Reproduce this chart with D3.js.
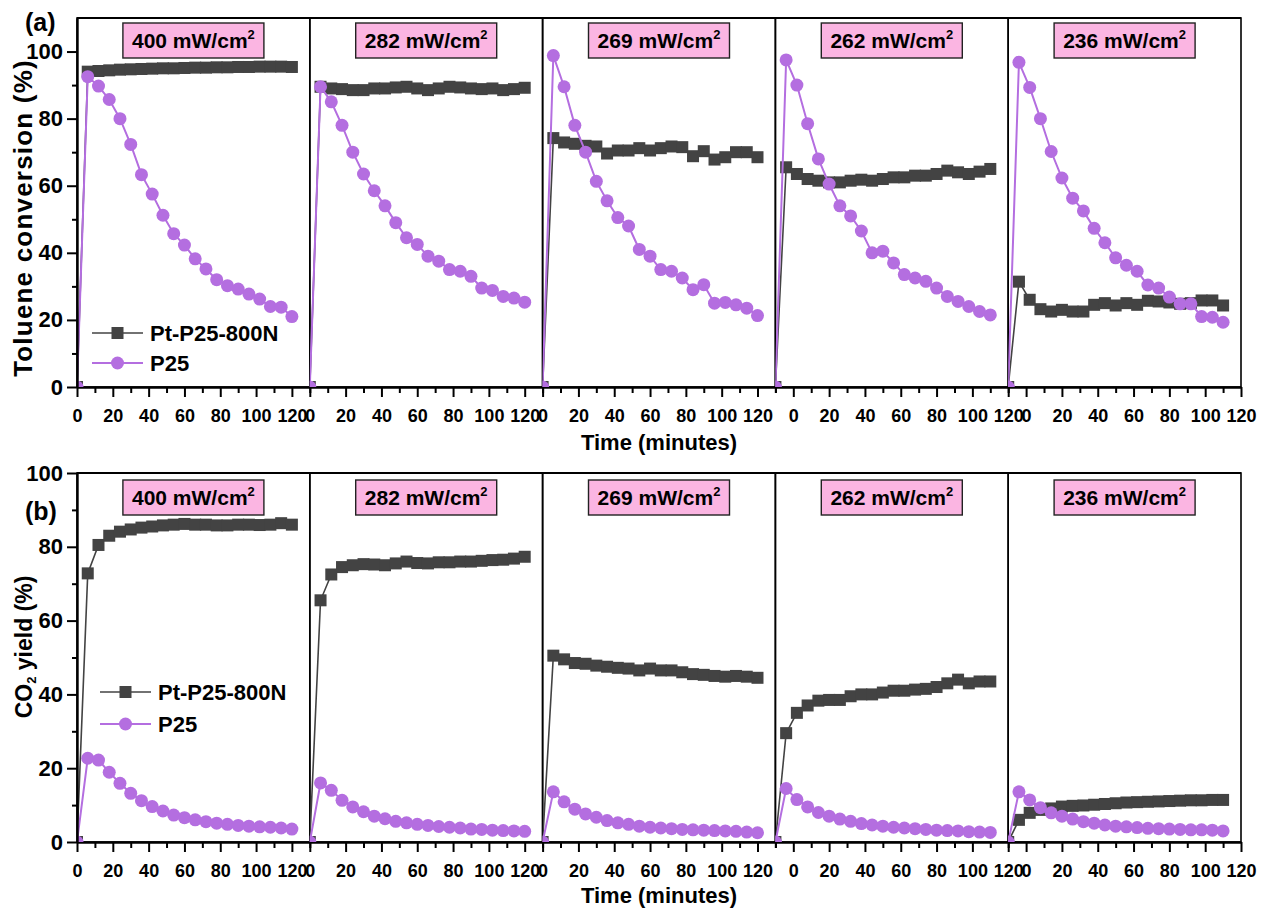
<!DOCTYPE html>
<html>
<head>
<meta charset="utf-8">
<script src="https://cdn.jsdelivr.net/npm/d3@7"></script>
<style>
  body { margin: 0; background: #fff; }
  text { font-family: Arial, "Liberation Sans", sans-serif; font-weight: bold; fill: #000; }
</style>
</head>
<body>
<div id="chart"></div>
<script>
// Light intensities, one panel each
var intensities = ["400", "282", "269", "262", "236"];
var seriesNames = ["Pt-P25-800N", "P25"];

// Sampling times (minutes); the last two panels use an axis shifted by 10 min
var timesA = [0, 6, 12, 18, 24, 30, 36, 42, 48, 54, 60, 66, 72, 78, 84, 90, 96, 102, 108, 114, 120];
var timesB = [-10, -4, 2, 8, 14, 20, 26, 32, 38, 44, 50, 56, 62, 68, 74, 80, 86, 92, 98, 104, 110];
var panelTimes = [timesA, timesA, timesA, timesB, timesB];

// Tick values
var xMajorTicks = [0, 20, 40, 60, 80, 100, 120];
var xMinorTicks = [-10, 10, 30, 50, 70, 90, 110, 130];
var yMajorTicks = [0, 20, 40, 60, 80, 100];
var yMinorTicks = [10, 30, 50, 70, 90];

// (a) Toluene conversion (%)
var tolPt = [
  [0, 94, 94.2, 94.4, 94.6, 94.7, 94.8, 94.9, 95, 95, 95.1, 95.2, 95.2, 95.3, 95.3, 95.4, 95.4, 95.5, 95.5, 95.5, 95.4],
  [0, 89.5, 89, 88.8, 88.5, 88.5, 89, 89, 89.3, 89.5, 89, 88.5, 89, 89.5, 89.3, 89, 88.8, 89, 88.5, 88.8, 89.2],
  [0, 74.2, 72.9, 72.5, 71.9, 71.7, 69.6, 70.5, 70.5, 71.2, 70.5, 71.2, 71.7, 71.5, 68.8, 70.3, 67.8, 68.5, 70, 70, 68.5],
  [0, 65.5, 63.5, 62, 61.5, 61, 61, 61.5, 61.8, 61.5, 62, 62.5, 62.5, 63, 63, 63.5, 64.5, 64, 63.5, 64.2, 65],
  [0, 31.4, 26, 23.2, 22.5, 23, 22.5, 22.5, 24.5, 25, 24.3, 25, 24.5, 25.7, 25.5, 25.2, 24.8, 25, 25.8, 25.8, 24.3]
];
var tolP25 = [
  [0, 92.5, 89.7, 85.7, 80, 72.3, 63.3, 57.5, 51.2, 45.7, 42.3, 38.2, 35.2, 32, 30.2, 29.2, 27.7, 26.2, 24, 23.8, 21],
  [0, 89.5, 85, 78, 70, 63.5, 58.5, 54, 49, 44.5, 42.5, 39, 37.5, 35, 34.5, 33, 29.5, 28.8, 27, 26.5, 25.3],
  [0, 98.8, 89.5, 78, 70, 61.3, 55.5, 50.5, 48, 41, 39, 35, 34.5, 32.5, 29, 30.5, 25, 25.2, 24.5, 23.5, 21.3],
  [0, 97.5, 90, 78.5, 68, 60.5, 54, 51, 46.5, 40, 40.5, 37, 33.5, 32.5, 31.5, 29.5, 27, 25.5, 24, 22.5, 21.5],
  [0, 96.8, 89.3, 80, 70.2, 62.3, 56.3, 52.5, 47.3, 43, 38.5, 36.3, 34.5, 30.4, 29.5, 26.8, 24.8, 24.8, 21, 20.8, 19.3]
];

// (b) CO2 yield (%)
var co2Pt = [
  [0, 72.8, 80.5, 83, 84.1, 84.7, 85.2, 85.5, 85.8, 86, 86.2, 86, 86, 85.8, 85.8, 86, 86, 85.9, 86, 86.4, 86],
  [0, 65.5, 72.5, 74.5, 75, 75.3, 75.2, 75, 75.5, 76, 75.6, 75.5, 75.8, 75.8, 76, 76, 76.2, 76.4, 76.5, 76.8, 77.3],
  [0, 50.5, 49.5, 48.5, 48.3, 47.8, 47.5, 47.2, 47, 46.5, 47, 46.5, 46.5, 46, 45.5, 45.3, 45, 44.8, 45, 44.8, 44.5],
  [0, 29.5, 35, 37, 38.3, 38.5, 38.5, 39.5, 40, 40, 40.5, 41, 41, 41.3, 41.5, 42, 43, 44, 43, 43.5, 43.5],
  [0, 6, 7.9, 8.7, 9.1, 9.6, 9.8, 9.9, 10.1, 10.3, 10.5, 10.7, 10.8, 10.9, 11, 11.1, 11.2, 11.3, 11.3, 11.4, 11.4]
];
var co2P25 = [
  [0, 22.7, 22.2, 18.9, 15.9, 13.2, 11.2, 9.6, 8.4, 7.3, 6.6, 6, 5.5, 5.1, 4.8, 4.5, 4.3, 4.1, 4, 3.8, 3.5],
  [0, 16, 14, 11.3, 9.5, 8.2, 7, 6.3, 5.6, 5.2, 4.8, 4.5, 4.2, 4, 3.8, 3.5, 3.4, 3.2, 3.1, 3, 2.9],
  [0, 13.6, 10.9, 8.9, 7.6, 6.7, 5.8, 5.2, 4.8, 4.3, 4, 3.8, 3.6, 3.4, 3.3, 3.2, 3.1, 3, 2.9, 2.7, 2.5],
  [0, 14.5, 11.5, 9.5, 8, 7, 6.2, 5.6, 5, 4.6, 4.3, 4, 3.8, 3.6, 3.4, 3.2, 3.1, 3, 2.8, 2.7, 2.6],
  [0, 13.6, 11.4, 9.3, 7.9, 7, 6.2, 5.5, 5.1, 4.6, 4.3, 4.1, 3.9, 3.7, 3.6, 3.5, 3.4, 3.3, 3.3, 3.2, 3]
];

window.onload = function() {

    var width = 1263, height = 909;
    var plotLeft = 77, plotRight = 1241;
    var panelW = (plotRight - plotLeft) / intensities.length;
    var colors = ["#434343", "#b46ee0"];

    var svg = d3.select("#chart")
        .append("svg")
        .attr("width", width)
        .attr("height", height);

    // Two stacked rows of five panels
    var rows = [
        { top: 18, bottom: 387, yMax: 110, data: [tolPt, tolP25], tag: "(a)", tagY: 31,
          titleY: 218, titleSize: 26, timeY: 450, legendX: 92, legendY: 333, legendGap: 30, boxY: 23 },
        { top: 473, bottom: 842, yMax: 100, data: [co2Pt, co2P25], tag: "(b)", tagY: 520,
          titleY: 647, titleSize: 23, timeY: 903, legendX: 100, legendY: 692, legendGap: 32, boxY: 480 }
    ];

    rows.forEach(function(row, r) {

        var y = d3.scaleLinear()
            .domain([0, row.yMax])
            .range([row.bottom, row.top]);

        panelTimes.forEach(function(times, i) {
            var x0 = plotLeft + i * panelW;
            var x = d3.scaleLinear()
                .domain(i < 3 ? [0, 130] : [-10, 120])
                .range([x0, x0 + panelW]);
            var dom = x.domain();
            var inside = function(t) { return t >= dom[0] && t <= dom[1]; };

            // clip marks to the panel frame
            var clipId = "clip-" + r + "-" + i;
            svg.append("clipPath").attr("id", clipId)
                .append("rect")
                .attr("x", x0).attr("y", row.top)
                .attr("width", panelW).attr("height", row.bottom - row.top);

            // panel frame
            svg.append("rect")
                .attr("x", x0).attr("y", row.top)
                .attr("width", panelW).attr("height", row.bottom - row.top)
                .attr("fill", "none")
                .attr("stroke", "#000")
                .attr("stroke-width", 1.6);

            // x axis: minor then major ticks
            var minor = svg.append("g")
                .attr("transform", "translate(0," + row.bottom + ")")
                .call(d3.axisBottom(x).tickValues(xMinorTicks.filter(inside)).tickSize(6).tickFormat(""));
            minor.select(".domain").remove();

            var major = svg.append("g")
                .attr("transform", "translate(0," + row.bottom + ")")
                .call(d3.axisBottom(x).tickValues(xMajorTicks).tickSize(10).tickSizeOuter(0).tickPadding(12));
            major.select(".domain").attr("stroke-width", 2.4);
            major.selectAll("text").style("font-size", "18px");
            svg.selectAll(".tick line").attr("stroke-width", 2);

            // series: Pt-P25-800N first, P25 on top
            var g = svg.append("g").attr("clip-path", "url(#" + clipId + ")");
            row.data.forEach(function(series, s) {
                var vals = series[i];
                var pts = times.map(function(t, k) { return [t, vals[k]]; });
                var line = d3.line()
                    .x(function(d) { return x(d[0]); })
                    .y(function(d) { return y(d[1]); });
                g.append("path")
                    .attr("d", line(pts))
                    .attr("fill", "none")
                    .attr("stroke", colors[s])
                    .attr("stroke-width", s === 0 ? 1.6 : 2);
                if (s === 0) {
                    g.selectAll(null).data(pts).enter().append("rect")
                        .attr("x", function(d) { return x(d[0]) - 6; })
                        .attr("y", function(d) { return y(d[1]) - 6; })
                        .attr("width", 12).attr("height", 12)
                        .attr("fill", colors[0]);
                } else {
                    g.selectAll(null).data(pts).enter().append("circle")
                        .attr("cx", function(d) { return x(d[0]); })
                        .attr("cy", function(d) { return y(d[1]); })
                        .attr("r", 6.5)
                        .attr("fill", colors[1]);
                }
            });

            // intensity label box
            var cx = x0 + panelW / 2;
            svg.append("rect")
                .attr("x", cx - 70.5).attr("y", row.boxY)
                .attr("width", 141).attr("height", 35)
                .attr("fill", "#fbb5e2")
                .attr("stroke", "#222")
                .attr("stroke-width", 1.4);
            var lbl = svg.append("text")
                .attr("x", cx).attr("y", row.boxY + 25)
                .attr("text-anchor", "middle")
                .style("font-size", "21px");
            lbl.append("tspan").text(intensities[i] + " mW/cm");
            lbl.append("tspan").attr("dy", -9).style("font-size", "13px").text("2");
        });

        // y axis on the first panel
        var yMinor = svg.append("g")
            .attr("transform", "translate(" + plotLeft + ",0)")
            .call(d3.axisLeft(y).tickValues(yMinorTicks).tickSize(5).tickFormat(""));
        yMinor.select(".domain").remove();
        var yAxis = svg.append("g")
            .attr("transform", "translate(" + plotLeft + ",0)")
            .call(d3.axisLeft(y).tickValues(yMajorTicks).tickSize(10).tickSizeOuter(0).tickPadding(4));
        yAxis.select(".domain").attr("stroke-width", 2.4);
        yAxis.selectAll("text").style("font-size", "22px");
        svg.selectAll(".tick line").attr("stroke-width", 2);

        // top frame line a bit heavier
        svg.append("line")
            .attr("x1", plotLeft).attr("x2", plotRight)
            .attr("y1", row.top).attr("y2", row.top)
            .attr("stroke", "#000").attr("stroke-width", 2);

        // axis titles
        var title = svg.append("text")
            .attr("transform", "translate(32," + row.titleY + ") rotate(-90)")
            .attr("text-anchor", "middle")
            .style("font-size", row.titleSize + "px");
        if (r === 0) {
            title.style("letter-spacing", "1.2px").text("Toluene conversion (%)");
        } else {
            title.append("tspan").text("CO");
            title.append("tspan").attr("dy", 4).style("font-size", "13px").text("2");
            title.append("tspan").attr("dy", -4).text(" yield (%)");
        }

        svg.append("text")
            .attr("x", (plotLeft + plotRight) / 2)
            .attr("y", row.timeY)
            .attr("text-anchor", "middle")
            .style("font-size", "22px")
            .text("Time (minutes)");

        svg.append("text")
            .attr("x", 25).attr("y", row.tagY)
            .style("font-size", "25px")
            .text(row.tag);

        // legend
        seriesNames.forEach(function(name, s) {
            var ly = row.legendY + s * row.legendGap;
            var lx = row.legendX;
            svg.append("line")
                .attr("x1", lx).attr("x2", lx + 51)
                .attr("y1", ly).attr("y2", ly)
                .attr("stroke", colors[s])
                .attr("stroke-width", s === 0 ? 1.6 : 2);
            if (s === 0) {
                svg.append("rect")
                    .attr("x", lx + 25.5 - 6).attr("y", ly - 6)
                    .attr("width", 12).attr("height", 12)
                    .attr("fill", colors[0]);
            } else {
                svg.append("circle")
                    .attr("cx", lx + 25.5).attr("cy", ly)
                    .attr("r", 6.5)
                    .attr("fill", colors[1]);
            }
            svg.append("text")
                .attr("x", lx + 58).attr("y", ly + 8)
                .style("font-size", "22px")
                .text(name);
        });
    });
};
</script>
</body>
</html>
